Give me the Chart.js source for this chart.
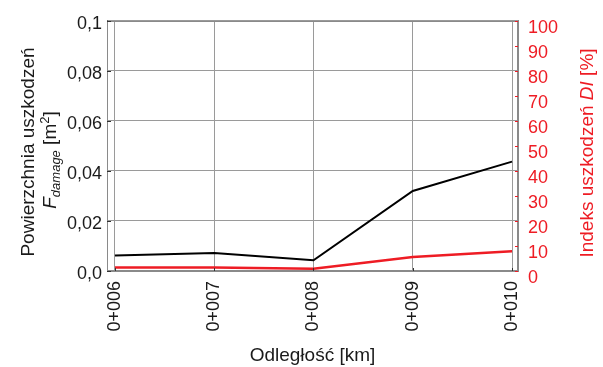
<!DOCTYPE html>
<html><head><meta charset="utf-8">
<script src="https://cdn.jsdelivr.net/npm/chart.js@4/dist/chart.umd.min.js"></script>
<style>html,body{margin:0;padding:0;background:#fff;}#wrap{width:603px;height:367px;}</style>
</head><body><div id="wrap"><canvas id="c" width="603" height="367"></canvas></div>
<script>
const categories = ['0+006', '0+007', '0+008', '0+009', '0+010'];
const damageArea = [0.0062, 0.0072, 0.0043, 0.0320, 0.0437];   // F_damage [m2]
const damageIndex = [1.4, 1.4, 0.9, 5.6, 7.9];                  // DI [%]
const leftTicks = [0, 0.02, 0.04, 0.06, 0.08, 0.1];
const leftTickLabels = ['0,0', '0,02', '0,04', '0,06', '0,08', '0,1'];
const rightTicks = [0, 10, 20, 30, 40, 50, 60, 70, 80, 90, 100];
const rightTickLabels = ['0', '10', '20', '30', '40', '50', '60', '70', '80', '90', '100'];

const FONT = "'Liberation Sans', Arial, sans-serif";
const RED = '#ee1c24';
const DARK = '#1a1a1a';

const xIdx = categories.map((c, i) => i);
const blackData = damageArea.map((v, i) => ({x: xIdx[i], y: v}));
const redData = damageIndex.map((v, i) => ({x: xIdx[i], y: v}));

function drawRich(ctx, segs, x, y, color) {
  ctx.save();
  ctx.translate(x, y);
  ctx.rotate(-Math.PI / 2);
  ctx.fillStyle = color;
  ctx.textBaseline = 'alphabetic';
  ctx.textAlign = 'left';
  let total = 0;
  segs.forEach(s => { ctx.font = s.font; s.w = ctx.measureText(s.t).width; total += s.w; });
  let cx = -total / 2;
  segs.forEach(s => { ctx.font = s.font; ctx.fillText(s.t, cx, s.dy || 0); cx += s.w; });
  ctx.restore();
}

const extras = {
  id: 'extras',
  afterDraw(chart) {
    const ctx = chart.ctx;
    const a = chart.chartArea;
    const sy = chart.scales.y, sy2 = chart.scales.y2, sx = chart.scales.x;
    ctx.save();
    ctx.strokeStyle = '#8a8a8a';
    ctx.lineWidth = 1;
    ctx.strokeRect(Math.round(a.left) + 0.5, Math.round(a.top) + 0.5, Math.round(a.right - a.left) - 1, Math.round(a.bottom - a.top) - 1);
    ctx.strokeStyle = '#333';
    leftTicks.forEach(v => {
      const p = Math.round(sy.getPixelForValue(v)) + 0.5;
      ctx.beginPath(); ctx.moveTo(a.left, p); ctx.lineTo(a.left + 4, p); ctx.stroke();
    });
    xIdx.forEach(v => {
      const p = Math.round(sx.getPixelForValue(v)) + 0.5;
      ctx.beginPath(); ctx.moveTo(p, a.bottom); ctx.lineTo(p, a.bottom - 3); ctx.stroke();
    });
    ctx.strokeStyle = RED;
    rightTicks.forEach(v => {
      const p = Math.round(sy2.getPixelForValue(v)) + 0.5;
      ctx.beginPath(); ctx.moveTo(a.right - 3, p); ctx.lineTo(a.right, p); ctx.stroke();
    });
    ctx.restore();
    drawRich(ctx, [{t: 'Powierzchnia uszkodzeń', font: '19px ' + FONT}], 34, 152, DARK);
    drawRich(ctx, [
      {t: 'F', font: 'italic 19px ' + FONT},
      {t: 'damage', font: 'italic 13px ' + FONT, dy: 4},
      {t: ' [m', font: '19px ' + FONT},
      {t: '2', font: '13px ' + FONT, dy: -7},
      {t: ']', font: '19px ' + FONT}
    ], 56, 160, DARK);
    drawRich(ctx, [
      {t: 'Indeks uszkodzeń ', font: '19px ' + FONT},
      {t: 'DI', font: 'italic 19px ' + FONT},
      {t: ' [%]', font: '19px ' + FONT}
    ], 593, 153, RED);
  }
};

new Chart(document.getElementById('c'), {
  type: 'line',
  data: {
    datasets: [
      {data: blackData, yAxisID: 'y', borderColor: '#000', borderWidth: 2, pointRadius: 0, tension: 0, fill: false},
      {data: redData, yAxisID: 'y2', borderColor: RED, borderWidth: 2.5, pointRadius: 0, tension: 0, fill: false}
    ]
  },
  options: {
    responsive: false,
    animation: false,
    layout: {padding: {top: 18, left: 0, right: 0, bottom: 0}},
    plugins: {legend: {display: false}, tooltip: {enabled: false}},
    scales: {
      x: {
        type: 'linear', min: -0.08, max: 4.06,
        afterBuildTicks: s => { s.ticks = xIdx.map(v => ({value: v})); },
        afterFit: s => { s.height = 96; },
        grid: {color: '#9a9a9a', lineWidth: 1, drawTicks: false},
        border: {color: '#8a8a8a'},
        ticks: {callback: v => categories[v], minRotation: 90, maxRotation: 90, autoSkip: false, padding: 10, color: DARK, font: {size: 18, family: FONT}},
        title: {display: true, text: 'Odległość [km]', color: DARK, font: {size: 19, family: FONT}, padding: {top: 0, bottom: 0}}
      },
      y: {
        position: 'left', min: 0, max: 0.1,
        afterBuildTicks: s => { s.ticks = leftTicks.map(v => ({value: v})); },
        afterFit: s => { s.width = 107; },
        grid: {color: '#9a9a9a', lineWidth: 1, drawTicks: false},
        border: {color: '#666'},
        ticks: {callback: (v, i) => leftTickLabels[i], padding: 5, labelOffset: 3, color: DARK, font: {size: 18, family: FONT}}
      },
      y2: {
        position: 'right', min: 0, max: 100,
        afterBuildTicks: s => { s.ticks = rightTicks.map(v => ({value: v})); },
        afterFit: s => { s.width = 85; },
        grid: {display: false, drawTicks: false},
        border: {color: '#8a8a8a'},
        ticks: {callback: (v, i) => rightTickLabels[i], padding: 10, labelOffset: 7, color: RED, font: {size: 18, family: FONT}}
      }
    }
  },
  plugins: [extras]
});
</script>
</body></html>
